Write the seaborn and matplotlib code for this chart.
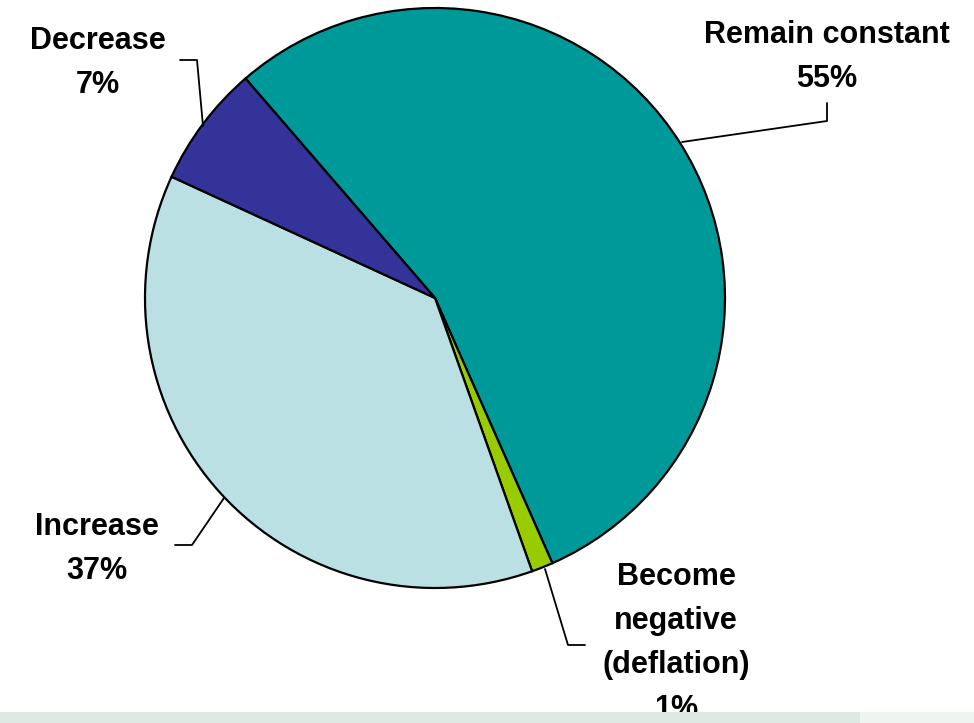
import matplotlib
matplotlib.use("Agg")
import matplotlib.pyplot as plt
import seaborn as sns
from matplotlib.patches import Rectangle

# Données du graphique
categories = ["Remain constant", "Become\nnegative\n(deflation)", "Increase", "Decrease"]
parts = [54.7, 1.2, 37.3, 6.8]
pct_labels = ["55%", "1%", "37%", "7%"]
colors = ["#009999", "#99CC00", "#BBE0E3", "#333399"]

sns.set_theme(style="white")
plt.rcParams["font.family"] = ["Liberation Sans", "DejaVu Sans"]

W, H = 974, 723
fig = plt.figure(figsize=(W / 100, H / 100), dpi=100)
ax = fig.add_axes([0, 0, 1, 1])

# camembert, centre et rayon en pixels (axe y vers le haut)
cx, cy, r = 435, H - 298, 290
ax.pie(parts, colors=colors, startangle=130.8, counterclock=False,
       center=(cx, cy), radius=r,
       wedgeprops=dict(edgecolor="black", linewidth=1.6))
ax.set_xlim(0, W)
ax.set_ylim(0, H)
ax.set_aspect("equal")
ax.axis("off")

txt = dict(fontsize=22, fontweight="bold", ha="center", va="center",
           linespacing=1.6, color="black")

# étiquettes + traits de rappel
ax.text(827, H - 57, categories[0] + "\n" + pct_labels[0], **txt)
ax.plot([682, 827, 827], [H - 142, H - 121, H - 103], color="black", lw=1.3)

ax.text(98, H - 63, categories[3] + "\n" + pct_labels[3], **txt)
ax.plot([180, 197, 203], [H - 60, H - 60, H - 126], color="black", lw=1.3)

ax.text(97, H - 549, categories[2] + "\n" + pct_labels[2], **txt)
ax.plot([175, 192, 224], [H - 545, H - 545, H - 498], color="black", lw=1.3)

ax.text(676, H - 643, categories[1] + "\n" + pct_labels[1], **txt)
ax.plot([545, 568, 585], [H - 569, H - 645, H - 645], color="black", lw=1.3)

# bande de fond en bas
fig.add_artist(Rectangle((0, 0), 1, 11 / H, transform=fig.transFigure,
                         facecolor="#dde9e2", edgecolor="none", zorder=10))
fig.add_artist(Rectangle((860 / W, 0), 1, 11 / H, transform=fig.transFigure,
                         facecolor="#eef4f0", edgecolor="none", zorder=11))

plt.savefig("out.png", dpi=100)
plt.close()
